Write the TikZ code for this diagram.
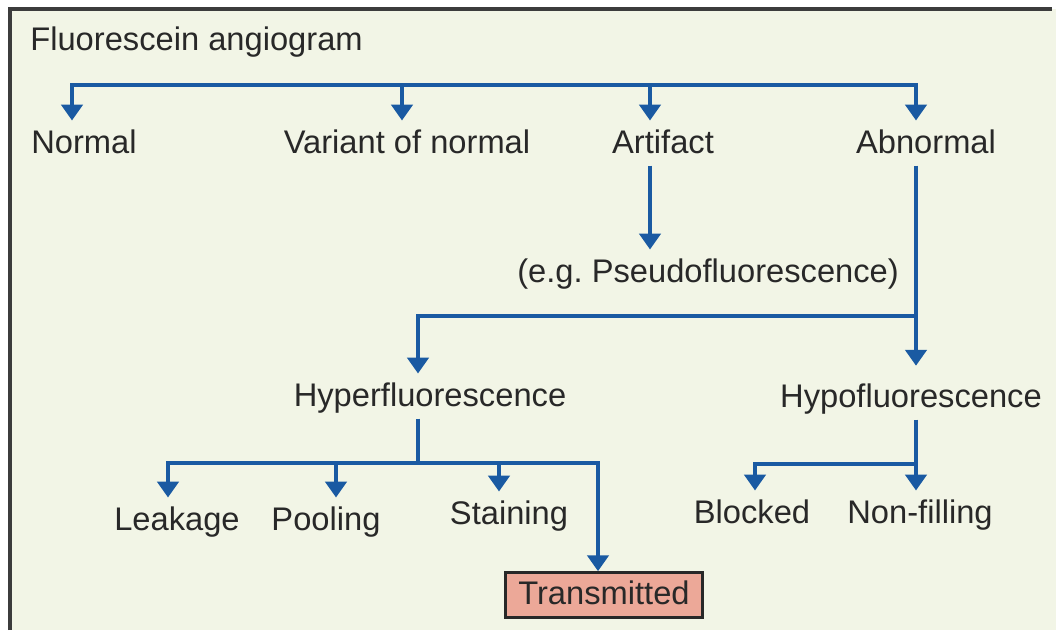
\documentclass[tikz,border=0pt]{standalone}
\usepackage{fontspec}
\setmainfont{Liberation Sans}
\usetikzlibrary{arrows.meta}
\definecolor{flowblue}{RGB}{26,90,162}
\definecolor{labelgray}{RGB}{40,40,40}
\definecolor{paper}{RGB}{242,245,230}
\definecolor{salmon}{RGB}{236,168,152}
\definecolor{framegray}{RGB}{60,60,60}

\begin{document}
\begin{tikzpicture}[x=0.02cm,y=-0.02cm,
  lbl/.style={text=labelgray,font=\fontsize{18.6}{22}\selectfont,anchor=base,
    inner xsep=0pt,inner ysep=5pt,text height=13.3pt,text depth=2pt},
  link/.style={flowblue,line width=2.2pt,line join=miter},
  arr/.style={link,-{Triangle[width=12pt,length=9pt]}}]
\useasboundingbox (0,0) rectangle (1056,630);
\fill[paper] (10,9) rectangle (1056,630);
\draw[framegray,line width=2pt] (10,630) -- (10,9) -- (1052,9);
% labels
\node[lbl,anchor=base west] (title) at (30,50) {Fluorescein angiogram};
\node[lbl] (normal) at (84,153) {Normal};
\node[lbl] (variant) at (407,153) {Variant of normal};
\node[lbl] (artifact) at (663,153) {Artifact};
\node[lbl] (abnormal) at (926,153) {Abnormal};
\node[lbl,anchor=base west] (pseudo) at (517,282) {(e.g.\ Pseudofluorescence)};
\node[lbl] (hyper) at (430,406) {Hyperfluorescence};
\node[lbl] (hypo) at (911,407) {Hypofluorescence};
\node[lbl] (leakage) at (177,530) {Leakage};
\node[lbl] (pooling) at (326,530) {Pooling};
\node[lbl] (staining) at (509,524) {Staining};
\node[lbl] (blocked) at (752,523) {Blocked};
\node[lbl] (nonfill) at (920,523) {Non-filling};
\node[lbl,anchor=center,draw=labelgray,line width=1.5pt,fill=salmon,
  minimum width=3.94cm,minimum height=0.9cm] (transmitted) at (604,595) {Transmitted};
% junctions
\coordinate (jn) at (72,85);
\coordinate (jv) at (402,85);
\coordinate (ja) at (650,85);
\coordinate (jb) at (916,85);
\coordinate (jh) at (916,316);
\coordinate (jy) at (418,316);
\coordinate (jl) at (168,463);
\coordinate (jx) at (418,463);
\coordinate (jp) at (336,463);
\coordinate (js) at (499,463);
\coordinate (jt) at (598,463);
\coordinate (jk) at (916,464);
\coordinate (jc) at (755,464);
% top level
\draw[arr] (jb) -| (jn |- normal.north);
\draw[arr] (jn) -| (jb |- abnormal.north);
\draw[arr] (jv) -- (jv |- variant.north);
\draw[arr] (ja) -- (ja |- artifact.north);
\draw[arr] (ja |- artifact.south) -- (ja |- pseudo.north);
% abnormal
\draw[arr,shorten >=5pt] (jb |- abnormal.south) -- (jb |- hypo.north);
\draw[arr] (jh) -| (jy |- hyper.north);
% hyperfluorescence
\draw[link] (jy |- hyper.south) -- (jx);
\draw[arr] (jt) -| (jl |- leakage.north);
\draw[arr] (jl) -| (jt |- transmitted.north);
\draw[arr] (jp) -- (jp |- pooling.north);
\draw[arr] (js) -- (js |- staining.north);
% hypofluorescence
\draw[arr] (jk |- hypo.south) -- (jk |- nonfill.north);
\draw[arr] (jk) -| (jc |- blocked.north);
\end{tikzpicture}
\end{document}
